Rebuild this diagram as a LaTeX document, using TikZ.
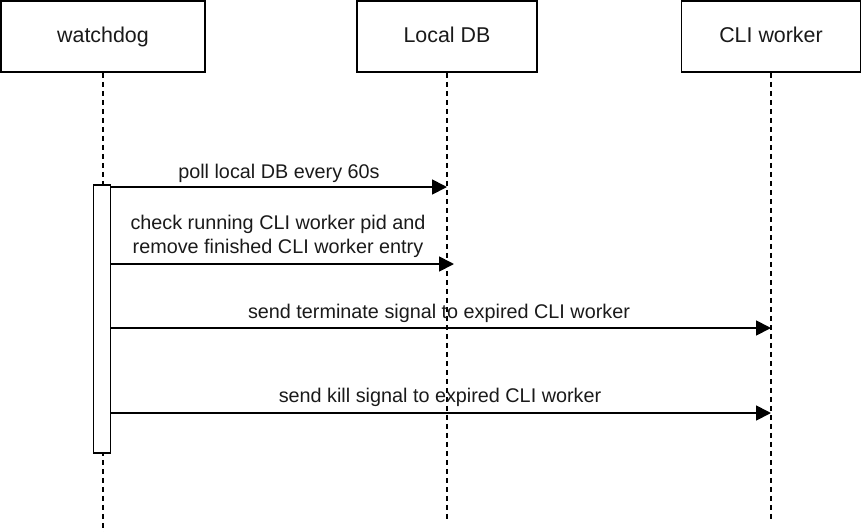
\documentclass[tikz,border=0pt]{standalone}
\usepackage{fontspec}
\setmainfont{Liberation Sans}
\usetikzlibrary{arrows.meta}
\definecolor{txt}{HTML}{1A1A1A}
\tikzset{
  part/.style={draw=black, line width=1.8pt, fill=white, minimum width=180pt, minimum height=71pt, inner sep=0pt, text height=15.5pt, text depth=4.5pt, font=\fontsize{21.4}{25}\selectfont, text=txt},
  life/.style={draw=black, line width=1.8pt, dash pattern=on 5pt off 4pt},
  actbox/.style={draw=black, line width=1.8pt, fill=white, minimum width=17pt, minimum height=268pt, inner sep=0pt},
  msg/.style={draw=black, line width=1.8pt, -{Triangle[length=15pt,width=15pt]}},
  lbl/.style={font=\fontsize{19.8}{24}\selectfont, text=txt, align=center, inner sep=0pt}
}
\begin{document}
\begin{tikzpicture}[x=1pt,y=-1pt]
\useasboundingbox (0,0) rectangle (863,531);
% participants
\node[part, minimum width=204pt] (wd) at (103,36.5) {watchdog};
\node[part] (db) at (447,36.5) {Local DB};
\node[part, minimum width=179pt] (cli) at (771,36.5) {CLI worker};
% lifeline ends
\coordinate (wdEnd) at (103,534);
\coordinate (dbEnd) at (447,520);
\coordinate (cliEnd) at (771,520);
\draw[life] (wd.south) -- (wdEnd);
\draw[life] (db.south) -- (dbEnd);
\draw[life] (cli.south) -- (cliEnd);
% activation
\node[actbox, anchor=north] (act) at (102,184) {};
% message endpoints
\coordinate (m1s) at (111,187);   \coordinate (m1e) at (447,187);
\coordinate (m2s) at (111,264);   \coordinate (m2e) at (454,264);
\coordinate (m3s) at (111,328);   \coordinate (m3e) at (771,328);
\coordinate (m4s) at (111,413);   \coordinate (m4e) at (771,413);
\draw[msg] (m1s) -- (m1e);
\draw[msg] (m2s) -- (m2e);
\draw[msg] (m3s) -- (m3e);
\draw[msg] (m4s) -- (m4e);
% labels
\node[lbl] (l1) at (279,173) {poll local DB every 60s};
\node[lbl] (l2) at (278,236) {check running CLI worker pid and\\remove finished CLI worker entry};
\node[lbl] (l3) at (439,313.5) {send terminate signal to expired CLI worker};
\node[lbl] (l4) at (440,397.5) {send kill signal to expired CLI worker};
\end{tikzpicture}
\end{document}
